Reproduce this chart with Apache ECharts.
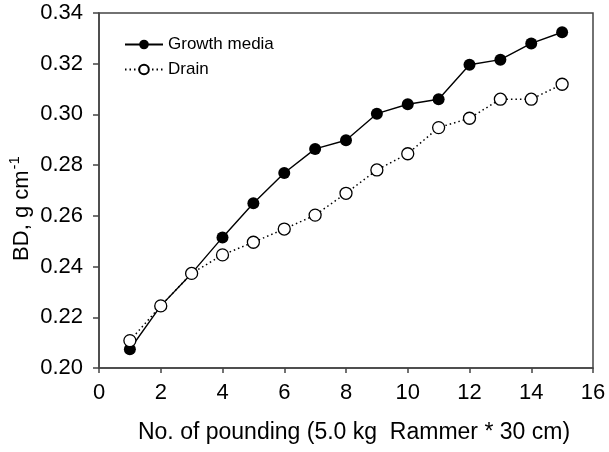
<!DOCTYPE html>
<html>
<head>
<meta charset="utf-8">
<script src="https://cdn.jsdelivr.net/npm/echarts@6/dist/echarts.min.js"></script>
<style>
  html, body { margin: 0; padding: 0; background: #fff; }
  #chart { width: 609px; height: 452px; }
</style>
</head>
<body>
<div id="chart"></div>
<script>
// number of poundings
var pounds = [1, 2, 3, 4, 5, 6, 7, 8, 9, 10, 11, 12, 13, 14, 15]
// bulk density, g cm-1
var growthMedia = [0.2074, 0.2245, 0.2373, 0.2515, 0.2650, 0.2769, 0.2864, 0.2898, 0.3003, 0.3040, 0.3060, 0.3196, 0.3216, 0.3280, 0.3324]
var drain = [0.2108, 0.2245, 0.2373, 0.2446, 0.2496, 0.2548, 0.2603, 0.2689, 0.2781, 0.2845, 0.2948, 0.2985, 0.3060, 0.3060, 0.3119]
var xTicks = [0, 2, 4, 6, 8, 10, 12, 14, 16]
var yTicks = [0.20, 0.22, 0.24, 0.26, 0.28, 0.30, 0.32, 0.34]

function pairs(ys) {
  return pounds.map(function (x, i) { return [x, ys[i]] })
}

var font = 'Liberation Sans, Arial, sans-serif'
var axisColor = '#444'

var chart = echarts.init(document.getElementById('chart'), null, { renderer: 'canvas' })
chart.setOption({
  animation: false,
  backgroundColor: '#fff',
  textStyle: { fontFamily: font, color: '#000' },
  grid: {
    left: 99,
    top: 13,
    right: 16,
    bottom: 84,
    outerBoundsMode: 'none',
    containLabel: false,
    show: true,
    borderColor: axisColor,
    borderWidth: 1.5
  },
  legend: {
    orient: 'vertical',
    left: 119,
    top: 31,
    itemWidth: 38,
    itemHeight: 12,
    itemGap: 8,
    textStyle: { fontSize: 17, color: '#000', fontFamily: font },
    data: ['Growth media', 'Drain']
  },
  xAxis: {
    type: 'value',
    min: xTicks[0],
    max: xTicks[xTicks.length - 1],
    interval: 2,
    name: 'No. of pounding (5.0 kg  Rammer * 30 cm)',
    nameLocation: 'middle',
    nameGap: 53,
    nameTextStyle: { fontSize: 23, color: '#000', fontFamily: font, padding: [0, 0, 0, 16] },
    axisLine: { show: true, lineStyle: { color: axisColor, width: 1.5 } },
    axisTick: { show: true, inside: false, length: 5, lineStyle: { color: axisColor, width: 1.5 } },
    axisLabel: { fontSize: 22, color: '#000', margin: 14, fontFamily: font },
    splitLine: { show: false }
  },
  yAxis: {
    type: 'value',
    min: yTicks[0],
    max: yTicks[yTicks.length - 1],
    interval: 0.02,
    name: '{a|BD, g cm}{b|-1}',
    nameLocation: 'middle',
    nameGap: 66,
    nameMoveOverlap: false,
    nameTextStyle: {
      fontSize: 22,
      color: '#000',
      fontFamily: font,
      padding: [0, 36, 0, 0],
      rich: {
        a: { fontSize: 22, fontFamily: font, color: '#000', lineHeight: 26, verticalAlign: 'bottom' },
        b: { fontSize: 15, fontFamily: font, color: '#000', lineHeight: 26, verticalAlign: 'top', padding: [0, 0, 12, 1] }
      }
    },
    axisLine: { show: true, lineStyle: { color: axisColor, width: 1.5 } },
    axisTick: { show: true, inside: false, length: 6, lineStyle: { color: axisColor, width: 1.5 } },
    axisLabel: {
      fontSize: 22,
      color: '#000',
      margin: 16,
      fontFamily: font,
      formatter: function (v) { return v.toFixed(2) }
    },
    splitLine: { show: false }
  },
  series: [
    {
      name: 'Growth media',
      type: 'line',
      data: pairs(growthMedia),
      symbol: 'circle',
      symbolSize: 12,
      itemStyle: { color: '#000' },
      lineStyle: { color: '#000', width: 1.4 }
    },
    {
      name: 'Drain',
      type: 'line',
      data: pairs(drain),
      symbol: 'circle',
      symbolSize: 12,
      itemStyle: { color: '#fff', borderColor: '#000', borderWidth: 1.3 },
      lineStyle: { color: '#000', width: 1.5, type: [1.5, 3] }
    }
  ]
})
</script>
</body>
</html>
